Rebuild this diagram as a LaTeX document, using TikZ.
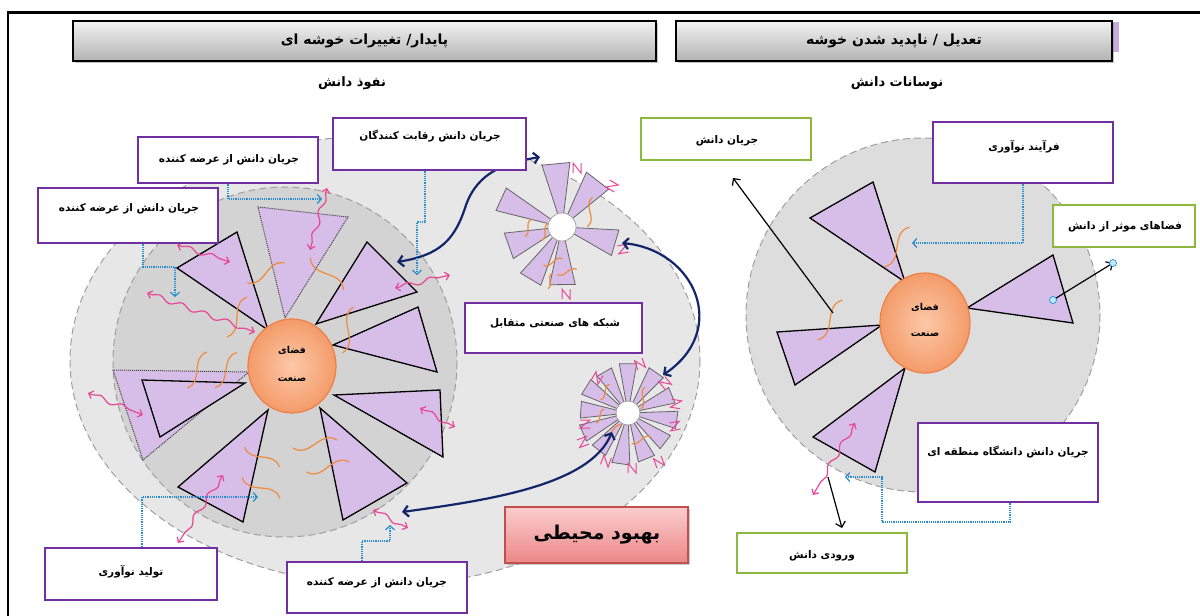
\documentclass[tikz,border=0pt]{standalone}
\usepackage{fontspec}
\newfontfamily\fa[Script=Arabic]{DejaVu Sans}
\TeXXeTstate=1
\usetikzlibrary{arrows.meta,shadows,decorations.pathmorphing,calc,shapes.geometric}
\newcommand\fatxt[1]{\beginR #1\endR}

\definecolor{lav}{RGB}{214,190,232}
\definecolor{purp}{RGB}{112,48,160}
\definecolor{grn}{RGB}{140,184,62}
\definecolor{navy}{RGB}{18,38,105}
\definecolor{pinka}{RGB}{232,70,150}
\definecolor{oran}{RGB}{238,140,60}
\definecolor{dblue}{RGB}{40,140,210}
\definecolor{bgout}{RGB}{231,231,231}
\definecolor{bgin}{RGB}{211,211,211}
\definecolor{bgright}{RGB}{221,221,221}
\definecolor{orfill}{RGB}{244,155,105}
\definecolor{orin}{RGB}{252,200,168}
\definecolor{ordraw}{RGB}{238,128,70}
\definecolor{envdraw}{RGB}{192,80,77}
\definecolor{envtop}{RGB}{250,205,205}
\definecolor{envbot}{RGB}{236,135,135}
\definecolor{tail}{RGB}{200,170,220}

\tikzset{
  pbox/.style={draw=purp, line width=2.6pt, fill=white, inner sep=0pt},
  gbox/.style={draw=grn, line width=2.6pt, fill=white, inner sep=0pt},
  lbl/.style={font=\fa\bfseries\fontsize{10.5}{12}\selectfont, inner sep=0pt},
  hdr/.style={draw=black, line width=1.3pt, top color=gray!10, bottom color=gray!60,
    drop shadow={shadow xshift=1.5pt, shadow yshift=-2pt, opacity=0.45},
    inner sep=0pt, font=\fa\bfseries\fontsize{14}{16}\selectfont},
  wedge/.style={fill=lav, draw=black, line width=1.3pt, line join=miter},
  dwedge/.style={fill=lav, draw=black!75, line width=1pt, densely dotted},
  swedge/.style={fill=lav, draw=black!60, line width=0.8pt},
  orsq/.style={oran, line width=1.2pt},
  pz/.style={pinka, line width=1pt},
  pinkarr/.style={pinka, line width=1.2pt,
    {Straight Barb[length=4pt,width=8pt]}-{Straight Barb[length=4pt,width=8pt]},
    decorate, decoration={snake, amplitude=2.5pt, segment length=24pt, pre length=5pt, post length=5pt}},
  bluecon/.style={dblue, line width=1.2pt, densely dotted, -{Straight Barb[length=4pt,width=9pt]}},
  navyarr/.style={navy, line width=2.2pt,
    {Straight Barb[length=5pt,width=11pt]}-{Straight Barb[length=5pt,width=11pt]}},
  blk/.style={black, line width=1.2pt, -{Straight Barb[length=5pt,width=10pt]}},
  sq/.pic={\draw[orsq] (-1,0) .. controls (-0.35,0.6) and (0.35,-0.6) .. (1,0);},
  zz/.pic={\draw[pz] (-4,5) -- (-4,-5) -- (4,5) -- (4,-5);},
}

\begin{document}
\begin{tikzpicture}[x=1pt,y=-1pt]
\useasboundingbox (0,0) rectangle (1200,616);
\fill[white] (0,0) rectangle (1200,616);

% outer frame
\draw[line width=2.2pt] (8,616) -- (8,12.5) -- (1200,12.5);

% shaded fields
\fill[bgout] (385,360) ellipse [x radius=315, y radius=225];
\draw[gray!75, line width=1pt, dash pattern=on 7pt off 4pt] (385,360) ellipse [x radius=315, y radius=225];
\fill[bgin] (285,362) ellipse [x radius=172, y radius=175];
\draw[gray!75, line width=1pt, dash pattern=on 7pt off 4pt] (285,362) ellipse [x radius=172, y radius=175];
\fill[bgright] (923,315) circle [radius=177];
\draw[gray!75, line width=1pt, dash pattern=on 7pt off 4pt] (923,315) circle [radius=177];

% left cluster wedges
\draw[wedge] (268,330) -- (177,268) -- (237,232) -- cycle;
\draw[dwedge] (285,318) -- (258,207) -- (348,217) -- cycle;
\draw[wedge] (316,324) -- (367,242) -- (417,292) -- cycle;
\draw[wedge] (333,345) -- (418,307) -- (437,372) -- cycle;
\draw[wedge] (334,395) -- (440,390) -- (443,457) -- cycle;
\draw[wedge] (320,408) -- (407,483) -- (343,520) -- cycle;
\draw[wedge] (268,410) -- (243,522) -- (178,487) -- cycle;
\draw[dwedge] (249,372) -- (113,370) -- (143,460) -- cycle;
\draw[wedge] (245,383) -- (142,380) -- (160,437) -- cycle;

% right cluster wedges
\draw[wedge] (905,282) -- (810,218) -- (873,182) -- cycle;
\draw[wedge] (967,308) -- (1053,255) -- (1073,323) -- cycle;
\draw[wedge] (882,325) -- (777,332) -- (795,385) -- cycle;
\draw[wedge] (905,368) -- (813,437) -- (875,472) -- cycle;

% upper small cluster
\begin{scope}[shift={(562,227)}]
\foreach \a/\b/\r in {83/108/65, 39/66/60, -30/-3/57, -102/-77/59, -132/-110/62, -174/-147/58, 145/166/68}
  \draw[swedge] (0,0) -- ({\r*cos(\a)},{-\r*sin(\a)}) -- ({\r*cos(\b)},{-\r*sin(\b)}) -- cycle;
\end{scope}
% lower small cluster
\begin{scope}[shift={(628,413)}]
\foreach \m/\r in {90/50, 120/48, 148/50, 176/48, 204/50, 232/48, 262/52, 292/50, 322/48, 352/50, 22/48, 55/50}
  \draw[swedge] (0,0) -- ({\r*cos(\m-10)},{-\r*sin(\m-10)}) -- ({\r*cos(\m+10)},{-\r*sin(\m+10)}) -- cycle;
\end{scope}
\node[circle, fill=white, draw=gray!70, line width=0.8pt, minimum size=28pt, inner sep=0pt] (hubA) at (562,227) {};
\node[circle, fill=white, draw=gray!70, line width=0.8pt, minimum size=24pt, inner sep=0pt] (hubB) at (628,413) {};

% orange knowledge waves
\foreach \x/\y/\t/\l in {266/273/28/42, 237/317/63/45, 327/274/-44/46, 348/330/77/47, 197/370/61/41,
  226/370/58/41, 262/457/-30/40, 261/488/-29/43, 315/444/10/45, 328/467/13/44,
  897/247/58/47, 830/320/58/47,
  528/228/70/18, 545/232/70/18, 590/212/80/30, 553/262/20/20, 567/272/15/20, 550/281/75/16,
  605/392/60/18, 643/398/80/22, 613/430/30/20, 641/440/20/20, 600/416/60/16}
  \pic[rotate=\t, scale=\l/2] at (\x,\y) {sq};

% pink zigzags around the small clusters
\foreach \x/\y/\t in {577/168/0, 612/186/60, 623/249/100, 566/294/0,
  640/364/20, 676/404/80, 675/426/100, 585/424/90, 583/442/110, 606/461/160, 632/468/0, 659/462/20, 597/378/150, 665/383/40}
  \pic[rotate=\t] at (\x,\y) {zz};

% circles of the industry space
\node[ellipse, draw=ordraw, line width=1.2pt, inner color=orin, outer color=orfill,
  minimum width=88pt, minimum height=94pt, inner sep=0pt] (coreL) at (292,366) {};
\node[lbl, font=\fa\bfseries\fontsize{9.5}{11}\selectfont] (coreLa) at (292,350) {\fatxt{فضای}};
\node[lbl, font=\fa\bfseries\fontsize{9.5}{11}\selectfont] (coreLb) at (292,379) {\fatxt{صنعت}};
\node[ellipse, draw=ordraw, line width=1.2pt, inner color=orin, outer color=orfill,
  minimum width=90pt, minimum height=100pt, inner sep=0pt] (coreR) at (925,323) {};
\node[lbl, font=\fa\bfseries\fontsize{9.5}{11}\selectfont] (coreRa) at (925,307) {\fatxt{فضای}};
\node[lbl, font=\fa\bfseries\fontsize{9.5}{11}\selectfont] (coreRb) at (925,334) {\fatxt{صنعت}};

% pink two-way exchanges
\draw[pinkarr] (327,188) -- (310,250);
\draw[pinkarr] (177,245) -- (230,262);
\draw[pinkarr] (147,293) -- (255,332);
\draw[pinkarr] (395,288) -- (450,275);
\draw[pinkarr] (88,393) -- (143,415);
\draw[pinkarr] (420,408) -- (455,427);
\draw[pinkarr] (223,475) -- (178,543);
\draw[pinkarr] (373,510) -- (408,528);
\draw[pinkarr] (855,423) -- (813,495);

% targets
\coordinate (tA) at (322,199);
\coordinate (tB) at (175,297);
\coordinate (tC) at (417,275);
\coordinate (tD) at (258,497);
\coordinate (tE) at (390,525);
\coordinate (tF) at (912,243);
\coordinate (tG) at (845,477);
\coordinate (nA) at (540,157);
\coordinate (nB) at (397,262);
\coordinate (nC) at (622,243);
\coordinate (nD) at (663,375);
\coordinate (nE) at (612,432);
\coordinate (nF) at (402,512);
\coordinate (kA) at (833,313);
\coordinate (kB) at (733,178);
\coordinate (kC) at (1053,300);
\coordinate (kD) at (1113,263);
\coordinate (kE) at (828,477);
\coordinate (kF) at (842,528);

% links between the clusters
\draw[navyarr] (nA) .. controls (505,163) and (478,172) .. (466,205) .. controls (455,240) and (440,255) .. (nB);
\draw[navyarr] (nC) .. controls (695,250) and (730,330) .. (nD);
\draw[navyarr] (nE) .. controls (590,485) and (490,500) .. (nF);

% boxes
\node[pbox, minimum width=193pt, minimum height=52pt] (comp) at (429.5,144) {};
\node[pbox, minimum width=180pt, minimum height=46pt] (sup1) at (228,160) {};
\node[pbox, minimum width=180pt, minimum height=55pt] (sup2) at (128,215.5) {};
\node[pbox, minimum width=177pt, minimum height=50pt] (net) at (553.5,328) {};
\node[pbox, minimum width=172pt, minimum height=52pt] (innov) at (131,574) {};
\node[pbox, minimum width=180pt, minimum height=51pt] (sup3) at (377,587.5) {};
\node[gbox, minimum width=170pt, minimum height=42pt] (gflow) at (726,139) {};
\node[pbox, minimum width=180pt, minimum height=61pt] (fara) at (1023,152.5) {};
\node[gbox, minimum width=142pt, minimum height=42pt] (geff) at (1124,226) {};
\node[pbox, minimum width=180pt, minimum height=79pt] (uni) at (1008,462.5) {};
\node[gbox, minimum width=170pt, minimum height=40pt] (gin) at (822,553) {};
\node[draw=envdraw, line width=1.3pt, top color=envtop, bottom color=envbot,
  drop shadow={shadow xshift=1.5pt, shadow yshift=-2pt, opacity=0.4},
  minimum width=183pt, minimum height=56pt, inner sep=0pt] (env) at (596.5,535) {};

% dotted feeds from the boxes
\draw[bluecon] (sup1.south) |- (tA);
\draw[bluecon] ([xshift=15pt]sup2.south) |- (175,267) -- (tB);
\draw[bluecon] ([xshift=-4.5pt]comp.south) -- (425,222) -- (417,222) -- (tC);
\draw[bluecon] ([xshift=11pt]innov.north) |- (tD);
\draw[bluecon] ([xshift=-15pt]sup3.north) |- (390,541) -- (tE);
\draw[bluecon] (fara.south) |- (tF);
\draw[bluecon] ([xshift=2pt]uni.south) |- (882,522) |- (tG);

% right cluster arrows
\draw[blk] (kA) -- (kB);
\draw[blk] (kC) -- (kD);
\draw[blk] (kE) -- (kF);
\fill[cyan!25, draw=dblue, line width=0.7pt] (kC) circle [radius=3.5];
\fill[cyan!25, draw=dblue, line width=0.7pt] (kD) circle [radius=3.5];

% headers
\node[hdr, minimum width=583pt, minimum height=40pt] (hdrL) at (364.5,41) {\fatxt{پایدار/ تغییرات خوشه ای}};
\fill[tail] (1112,22) rectangle (1119,52);
\node[hdr, minimum width=436pt, minimum height=40pt] (hdrR) at (894,41) {\fatxt{تعدیل / ناپدید شدن خوشه}};
\node[lbl, font=\fa\bfseries\fontsize{13}{15}\selectfont] (subL) at (352,83) {\fatxt{نفوذ دانش}};
\node[lbl, font=\fa\bfseries\fontsize{13}{15}\selectfont] (subR) at (897,83) {\fatxt{نوسانات دانش}};

% box texts
\node[lbl] (compt) at (430,136) {\fatxt{جریان دانش رقابت کنندگان}};
\node[lbl] (sup1t) at (229,160) {\fatxt{جریان دانش از عرضه کننده}};
\node[lbl] (sup2t) at (129,209) {\fatxt{جریان دانش از عرضه کننده}};
\node[lbl] (nett) at (555,323) {\fatxt{شبکه های صنعتی متقابل}};
\node[lbl] (innovt) at (131,572) {\fatxt{تولید نوآوری}};
\node[lbl] (sup3t) at (377,583) {\fatxt{جریان دانش از عرضه کننده}};
\node[lbl] (gflowt) at (727,141) {\fatxt{جریان دانش}};
\node[lbl] (farat) at (1024,147) {\fatxt{فرآیند نوآوری}};
\node[lbl] (gefft) at (1125,227) {\fatxt{فضاهای موثر از دانش}};
\node[lbl] (unit) at (1008,452) {\fatxt{جریان دانش دانشگاه منطقه ای}};
\node[lbl] (gint) at (822,556) {\fatxt{ورودی دانش}};
\node[lbl, font=\fa\bfseries\fontsize{19}{22}\selectfont] (envt) at (597,535) {\fatxt{بهبود محیطی}};
\end{tikzpicture}
\end{document}
